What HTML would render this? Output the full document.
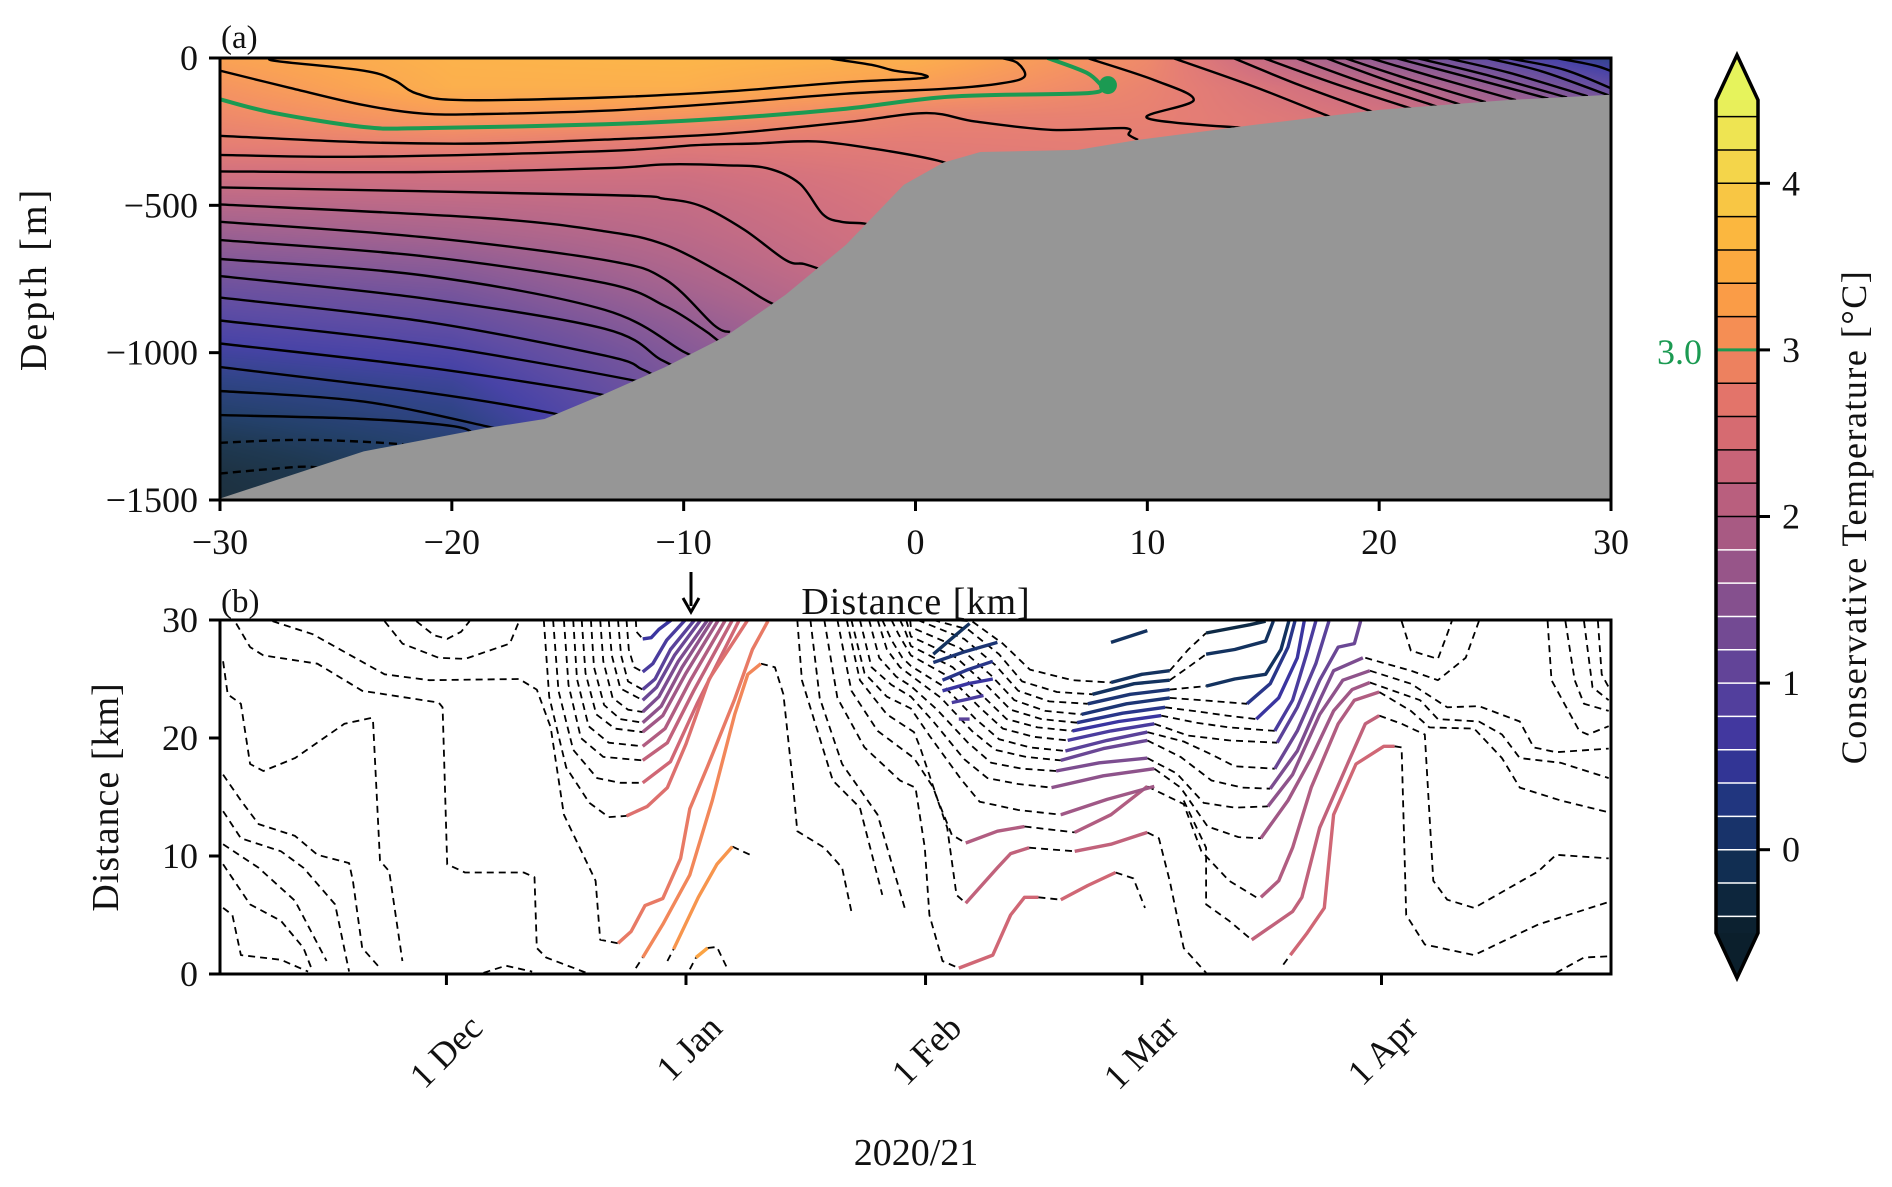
<!DOCTYPE html>
<html><head><meta charset="utf-8">
<style>
html,body{margin:0;padding:0;background:#fff;}
#wrap{position:relative;width:1892px;height:1187px;overflow:hidden;font-family:"Liberation Serif",serif;}
canvas{position:absolute;left:220px;top:58px;}
svg{position:absolute;left:0;top:0;}
text{font-family:"Liberation Serif",serif;fill:#111;}
</style></head>
<body>
<div id="wrap">
<canvas id="field" width="1391" height="442"></canvas>
<svg id="fig" width="1892" height="1187" viewBox="0 0 1892 1187" xmlns="http://www.w3.org/2000/svg">
  <defs>
    <clipPath id="clipA"><rect x="220" y="58" width="1391" height="442"/></clipPath>
    <clipPath id="clipWater"><path id="waterPath" d=""/></clipPath>
    <clipPath id="clipB"><rect x="220" y="620" width="1391" height="354"/></clipPath>
  </defs>
  <g id="panelA"></g>
  <g id="panelB"></g>
  <g id="cbar"></g>
  <text x="221" y="48" font-size="33">(a)</text>
  <text x="221" y="612" font-size="33">(b)</text>
  <text x="916" y="614" font-size="38" text-anchor="middle" letter-spacing="1">Distance [km]</text>
  <text transform="translate(46,279) rotate(-90)" font-size="38" text-anchor="middle" letter-spacing="3">Depth [m]</text>
  <text transform="translate(118,797) rotate(-90)" font-size="38" text-anchor="middle" letter-spacing="1">Distance [km]</text>
  <text x="916" y="1165" font-size="38" text-anchor="middle">2020/21</text>
  <g>
    <line x1="691" y1="572" x2="691" y2="606" stroke="#000" stroke-width="3"/>
    <path d="M683,598 L691,612 L699,598" fill="none" stroke="#000" stroke-width="3"/>
  </g>
  <text transform="translate(1866,517) rotate(-90)" font-size="36" text-anchor="middle" letter-spacing="1.5">Conservative Temperature [°C]</text>
  <text x="1702" y="364" font-size="36" text-anchor="end" fill="#1b9a52" style="fill:#1b9a52">3.0</text>
</svg>
</div>
<script>
// ---------- colormap ----------
const cmapVals = [-0.5,-0.2,0.0,0.3,0.6,0.9,1.2,1.5,1.8,2.1,2.4,2.7,3.0,3.3,3.6,3.9,4.2,4.5];
const cmapCols = ["#0b1f2c","#0e2a45","#13325f","#21367f","#3a35a0","#523f9d","#6a4795","#85508e","#a05886","#b95f7e","#d06775","#e3746a","#f2875a","#fa9c47","#fcb03c","#f8c644","#f2dd4d","#e6f35c"];
function hex2rgb(h){return [parseInt(h.substr(1,2),16),parseInt(h.substr(3,2),16),parseInt(h.substr(5,2),16)];}
const cmapRGB = cmapCols.map(hex2rgb);
function cmap(v){
  if(v<=cmapVals[0]) return cmapRGB[0];
  for(let i=1;i<cmapVals.length;i++){
    if(v<=cmapVals[i]){const t=(v-cmapVals[i-1])/(cmapVals[i]-cmapVals[i-1]);const a=cmapRGB[i-1],b=cmapRGB[i];return [a[0]+(b[0]-a[0])*t,a[1]+(b[1]-a[1])*t,a[2]+(b[2]-a[2])*t];}
  }
  return cmapRGB[cmapRGB.length-1];
}
function cstr(v){const c=cmap(v);return "rgb("+c.map(x=>Math.round(x)).join(",")+")";}

// ---------- panel A data ----------
const gridX = [-30,-20,-10,0,10,20,30];
const gridDepth = [0,100,200,300,400,500,600,700,800,900,1000,1100,1200,1300,1400,1500];
const gridT = [
 [3.3,3.55,3.6,3.5,2.9,1.5,0.3],
 [3.08,3.5,3.5,3.22,2.8,2.2,1.0],
 [2.9,3.18,3.07,2.78,2.75,2.45,1.6],
 [2.7,2.76,2.6,2.65,2.7,2.5,2.0],
 [2.35,2.36,2.33,2.55,2.6,2.5,2.2],
 [2.0,2.08,2.18,2.5,2.5,2.5,2.3],
 [1.66,1.82,2.07,2.45,2.5,2.5,2.3],
 [1.34,1.5,1.93,2.4,2.5,2.5,2.3],
 [1.04,1.22,1.76,2.3,2.5,2.5,2.3],
 [0.78,0.96,1.56,2.2,2.5,2.5,2.3],
 [0.52,0.7,1.4,2.1,2.5,2.5,2.3],
 [0.27,0.46,1.3,2.0,2.5,2.5,2.3],
 [0.03,0.28,1.2,2.0,2.5,2.5,2.3],
 [-0.19,0.1,1.1,2.0,2.5,2.5,2.3],
 [-0.38,0.0,1.0,2.0,2.5,2.5,2.3],
 [-0.45,-0.1,1.0,2.0,2.5,2.5,2.3]
];
const bathyDist = [-30,-23.8,-18.6,-16,-13.4,-10.8,-8.2,-5.6,-3,-0.5,1.2,2.8,7,9.6,14.6,20,25.5,30];
const bathyDepth = [1495,1335,1257,1225,1140,1049,945,803,634,430,355,319,312,278,227,176,143,125];
const xTicksA = [-30,-20,-10,0,10,20,30];
const yTicksA = [0,-500,-1000,-1500];
const contourLevelsA = [3.4,3.2,2.8,2.6,2.4,2.2,2.0,1.8,1.6,1.4,1.2,1.0,0.8,0.6,0.4,0.2,0.0,-0.2,-0.4];
const contourPtsA = [
 [-27.6,0,-27.6,10,-23.8,43,-22.5,75,-21.5,121,-19.6,143,-13.4,134,-8.2,114,-3,82,0.2,69,0.3,56,-0.9,43,-1.9,23,-3.5,4,-3.7,0],
 [-30,43,-27,101,-23.8,160,-21.2,189,-18.6,190,-13.4,179,-8.2,153,-3,121,1.4,104,3.7,86,4.7,63,4.4,17,3.7,0],
 [-30,264,-23.8,286,-18.6,290,-13.4,277,-8.2,257,-3,218,0.46,187,2.6,216,5.9,244,9,238,9.2,261,9.6,278],
 [-30,329,-23.8,335,-13.4,316,-9.5,296,-6.9,290,-4.3,283,-1.7,309,0.95,348,2,380],
 [-30,385,-21.2,387,-13.4,374,-10.8,361,-8.2,364,-6.4,374,-5,426,-4,530,-3.2,556,-2.2,562,-1.5,580],
 [-30,439,-13.4,465,-10.8,478,-9.2,504,-7.4,582,-5.6,686,-4.8,699,-4,720],
 [-30,497,-18.6,543,-13.4,588,-10.8,634,-8.2,738,-6.6,816,-6,840],
 [-30,556,-21.2,608,-13.4,686,-10.8,751,-8.7,906,-8,930],
 [-30,618,-21.2,673,-13.4,764,-10.8,842,-9.2,919,-8.5,960],
 [-30,682,-21.2,738,-13.4,855,-10,997,-9,1030],
 [-30,740,-21.2,816,-13.4,919,-11,1023,-10,1060],
 [-30,813,-21.2,894,-13.4,1010,-11.8,1056,-11,1090],
 [-30,891,-21.2,971,-12.1,1095,-11.5,1120],
 [-30,969,-21.2,1049,-13.7,1140,-13,1170],
 [-30,1049,-21.2,1134,-15.7,1205,-15,1230],
 [-30,1130,-23.8,1166,-18.1,1257,-17,1280],
 [-30,1212,-23.8,1225,-19.9,1250,-19,1280],
 [-30,1306,-26.4,1296,-22.5,1309,-21,1330],
 [-30,1410,-27.7,1394,-26.2,1387,-25,1400]
];
const rightContoursA = [
 [7.4,0,10.3,75,12,143,10,204,14.2,238],
 [11.1,0,14.6,97,17.9,200],
 [13.7,0,16.5,90,19.8,185],
 [15.0,0,18,85,21.4,172],
 [16.4,0,19.2,80,22.5,165],
 [17.7,0,20.3,75,23.5,158],
 [18.5,0,21.2,70,24.6,150],
 [19.6,0,22.4,65,25.9,143],
 [20.7,0,23.6,60,27.3,138],
 [21.6,0,24.5,55,28.1,134],
 [22.9,0,25.6,50,29,130],
 [24.6,0,27,45,29.9,127],
 [25.5,0,28,40,30.5,120],
 [27.6,0,29.5,30,31,80]
];
const greenMain = [-30,140,-27.7,186,-23.8,234,-21.2,238,-13.4,225,-8.2,205,-3,172,1.5,131,7.2,120,8.1,103,8.3,92];
const greenTop = [5.7,0,7.4,51,8.1,98,8.3,92];
const greenDot = [8.3,92];

// ---------- panel B data ----------
const dateTickDays = [30,61,92,120,151];
const dateTickLabels = ["1 Dec","1 Jan","1 Feb","1 Mar","1 Apr"];
const yTicksB = [0,10,20,30];
const dashedB = [
 [2.8,29.7,4.6,27.7,6.3,27,13.3,26.3,19.1,24,29,23,29.5,22.6,30.1,9.3,32.4,8.6,40,8.6,41.4,8.2,41.7,2.2,42.9,1.4,48.1,0.1],
 [7.5,29.9,12.7,28.8,22,25.4,27.8,24.9,39.4,25,41.7,24.1,43.5,20.9,45.2,13.5,49.3,7.9,49.9,2.9,52.2,2.6],
 [22,29.9,24.3,28,29,26.8,32.4,26.7,38.2,28,39.4,29.9],
 [26.1,29.9,28.4,28.7,30.1,28.4,31.9,29,33,29.9],
 [1.1,26.5,1.7,23.7,3.4,22.9,4.6,17.8,6.3,17.2,10.4,18.3,16.8,21.2,20.3,21.7,20.5,21.5,21.4,9.6,22.6,8.7,24.3,1.1],
 [1.1,16.9,3.4,14.7,5.7,12.7,10.4,11.7,13.3,10.1,17.4,9.4,17.9,7.9,19.1,2.2,21.4,0.5],
 [1.1,13.8,3.4,11.5,8.6,10.4,11.5,9,15.6,5.9,17.4,0.2],
 [1.1,11,5.7,9,10.4,6.2,14.5,1.1],
 [1.1,9.3,4.6,5.9,8.6,4.5,11.5,2.2,12.7,0.2],
 [1.1,5.6,2.3,5,3.4,1.6,8.6,1.2,12.1,0.2],
 [34.8,0.1,37.7,0.7,41.1,0.2],
 [54.5,30,54.6,29,55.4,28.4],
 [53.3,30,53.6,27.5,54.3,26,55.4,25.6],
 [52.2,30,52.6,27,53.5,24.8,55.4,24.1],
 [51,30,51.4,27,52.5,24.2,55.4,23.2],
 [49.9,30,50.3,26.5,51.5,23.4,53.5,22.4,55.4,22.2],
 [48.7,30,49.1,26,50.4,22.8,52.5,21.6,55.4,21.3],
 [47.5,30,48,25.5,49.4,22,51.8,20.8,55.4,20.5],
 [46.4,30,46.9,25,48.4,21,51,19.6,55.4,19.3],
 [45.2,30,45.8,24.5,47.4,20,50.3,18.4,55.4,18.1],
 [43.8,30,44.5,24,46.4,19,49.5,16.6,52.5,16.2,55.4,16.2],
 [42.6,30,43.3,23.5,45.5,17.5,48.5,14.5,51,13.3,53.3,13.4],
 [70.7,26.3,72.5,26,73.6,23.7,74.8,16.4,75.4,12.1,78.9,10.7,81.2,9,82.4,5.3],
 [54.5,0.5,55.4,1.4],
 [67,10.8,69.3,10.1],[58.6,1.1,59.4,2.1],
 [63.8,2.2,65,2.3,66.4,0.4],[61.5,0.4,62.3,1.4],
 [75.4,30,76,24.9,80,16.4,83.5,14.1,86.4,6.7],
 [77.1,30,78.3,23.4,81.2,17.8,85.8,13.5,89.3,5.6],
 [78.9,30,80.6,23.4,84.1,19.2,88.7,16.4,90.7,15.8,91.9,10.7,92.5,5,94.2,1.1,96.3,0.5],
 [106.6,6.5,109.5,6.3],[116.6,8.6,118.9,8.1,120.4,5.6],
 [80.6,30,82.4,24,85.8,20.6,90.5,18.3,93,15.8,94.8,12.4,96,6.7,97.2,6.0],
 [105.4,10.7,111.3,10.4],[120.7,12,122.2,11.5,123.6,7.9,125.4,2.2,128.3,0.1],
 [81.8,30,83.5,24.9,87,22,90.5,20.5,91.3,19.2,93.6,14.7,95.4,11.8,97.2,11.1],
 [104.8,12.5,111.3,12],
 [120.7,15.9,125.4,14.4,127.7,10.4,131.3,7.9,134.8,6.5,135.4,6.5],
 [82.4,30,84.1,25.5,87,23.5,90.1,22.5,92.5,20.2,96.6,16.5,99,14.6,104,13.9,109.5,13.5],
 [83.5,30,85,26,87.6,24.5,90.1,23.5,93,21.4,97,18.2,100,16.6,104,16.1,108.3,15.8],
 [84.7,30,86,26.8,88.2,25.2,90.1,24.4,93.5,22.4,97.5,19.6,100.5,17.9,104.5,17.4,108.9,17.2],
 [85.8,30,87,27.5,88.7,26,90.1,25.3,94,23.4,98,20.6,101,19,105,18.4,109.5,18.1],
 [86.4,30,87.6,28.3,89,26.8,90.1,26.1,94.5,24.3,98.5,21.6,101.5,19.9,105.5,19.2,110.1,18.9],
 [87.6,30,88.5,28.8,90.1,27,95,25.2,99,22.6,102,20.8,106,20.1,110.4,19.8],
 [88.7,30,89.4,29,90.1,27.8,95.5,26,99.5,23.5,102.5,21.6,106.5,20.9,111,20.6],
 [89.5,30,90.1,28.6,96,26.8,100,24.4,103,22.4,107,21.6,111.6,21.3],
 [90,30,90.1,29.4,96.5,27.6,100.5,25.3,103.5,23.2,107.5,22.3,112.2,22],
 [91,30,97,28.4,101,26.2,104,24,108,23.1,113,22.9],
 [93,30,97.5,29.2,101.5,27.1,104.5,24.8,109,23.9,113.6,23.7],
 [95,30,98,29.9,102,28,105.5,25.8,111,24.9,116,24.7],
 [123.6,23.4,127.7,23.2,133.6,22.9],
 [123,22.6,127.7,22.2,131,21.9,134.8,21.6],
 [122.5,21.9,127,21.3,131.3,20.9,137.2,20.6],
 [121.6,21.2,126,20.2,131.3,19.8,137.5,19.6],
 [120.7,20.5,125.4,19.7,129,18.6,132,17.6,137.2,17.4],
 [120.7,19.8,125,18.4,129,16.4,133,15.8,136.6,15.7],
 [120.7,18.3,124.5,17,128,14.5,132,14.1,136.3,14.2],
 [121.6,17.4,125,15.8,128.5,12.5,132.5,11.6,135.4,11.5],
 [123.6,24.1,128.3,24.4],[123.6,24.9,126,26,128.3,27.1],[123.6,25.7,126,27.5,128.3,28.9],
 [138.3,0.8,139.2,1.6],
 [152.7,19.3,153.6,19.2,154.2,5,156.6,2.5,163,1.6,171.3,4.2,180.4,6.1],
 [125.4,14.7,128.3,10.7,128.3,5.9,131.3,4.5,134.2,2.9],
 [150.7,21.9,153.6,21.2,156.6,20.3,157.7,7.9,159.5,6.3,163,5.6,171.3,8.7,173.6,10.1,180.4,9.8],
 [150.7,23.9,154.8,22.3,157.2,20.9,163,20.8,166.6,18.3,168.9,15.8,174.2,14.7,180.4,13.7],
 [149.5,24.7,156,23.2,158.3,21.6,163.6,21.4,166.6,20.3,168.9,18.3,174.2,17.9,180.4,16.6],
 [149.5,25.7,154.8,24.6,159.5,22.6,163.6,22.7,168.9,21.4,170.7,19.2,173.6,18.8,180.4,19.1],
 [148.9,26.8,154.8,25.7,158.3,24.9,161.9,26.8,163.6,29.9],
 [153.6,29.9,154.8,27.4,158.3,26.7,159.5,28.8,160.1,29.9],
 [172.5,29.9,173,24.9,176.6,20.6,177.7,20.3,180.4,21],
 [174.8,29.9,176,24.9,177.2,22.9,180.4,22.3],
 [177.2,29.9,178.3,24.3,180.4,23.2],
 [179,29.9,179.5,25.4,180.4,24.3],
 [173.6,0.1,177.2,1.4,180.4,1.5]
];
const coloredLevelsB = [0.6,0.8,1.0,1.2,1.4,1.6,1.8,2.0,2.2,2.4,2.6,2.8,3.0,3.2,3.4,
 2.4,2.4,2.2,2.2,2.0,2.0,
 2.4,2.2,2.0,1.8,1.6,1.4,1.2,1.0,0.8,0.6,0.4,
 0.0,0.0,-0.2,0.0,
 0.0,0.0,0.2,0.2,0.4,0.6,0.8,1.0,1.2,1.4,1.6,1.8,
 0.0,0.2,0.4,0.6,0.8,1.0];
const coloredPtsB = [
 [55.4,28.4,56.5,28.5,57.5,29.2,59.1,30],
 [55.4,25.6,56.7,26.3,58.5,28.3,60.9,30],
 [55.4,24.1,57,25,59,27.5,62.1,30],
 [55.4,23.2,57.2,24.3,59.5,27,62.9,30],
 [55.4,22.2,57.5,23.5,60,26.5,63.8,30],
 [55.4,21.3,57.8,22.7,60.5,26,64.4,30],
 [55.4,20.5,58,21.9,61,25.5,65.2,30],
 [55.4,19.3,58.3,20.8,61.5,24.8,66.1,30],
 [55.4,18.1,58.6,19.6,62,24,67,30],
 [55.4,16.2,59,18,62.5,23,67.9,30],
 [53.3,13.4,56,14.2,58.6,15.8,61,19.5,64,25,69,30],
 [52.2,2.6,53.9,3.6,55.7,5.8,58,6.4,60.3,9.8,61.5,14,63.8,17.6,67.3,23.3,69.6,27.5,71.6,29.9],
 [55.4,1.4,58,4.2,61.5,8.4,64.4,14.7,67.3,22,69,25.4,70.7,26.3],
 [59.4,2.1,62.6,6.5,65,9.3,67,10.8],
 [62.3,1.4,63.8,2.2],
 [96.3,0.5,100.7,1.6,103,5,104.8,6.5,106.6,6.5],
 [109.5,6.3,113,7.5,116.6,8.6],
 [97.2,6,101.3,9,103,10.2,105.4,10.7],
 [111.3,10.4,116,11,120.7,12],
 [97.2,11.1,101.3,12.1,104.8,12.5],
 [111.3,12,116,13.5,120.7,15.9],
 [139.2,1.6,141.3,3.4,143.6,5.6,144.8,13.5,147.7,17.8,151.3,19.3,152.7,19.3],
 [134.2,2.9,139.5,5.3,140.7,6.5,143,12.4,146.6,17.8,148.9,21.2,150.7,21.9],
 [135.4,6.5,137.7,7.9,139.5,10.7,141.9,15.8,145.4,21.2,147.5,23.2,150.7,23.9],
 [135.4,11.5,138.9,14.7,141.9,18.3,144.8,22.3,147.2,24.1,149.5,24.7],
 [136.3,14.2,139.5,16.9,143,22,146,24.9,149.5,25.7],
 [136.6,15.7,140.1,18.9,143,23.2,144.8,25.7,148.6,26.8],
 [137.2,17.4,140.1,20.6,143,24.9,145.4,27.7,147.5,28,148.3,29.9],
 [137.5,19.6,140.1,22.6,142.5,26.3,144.2,29.9],
 [137.2,20.6,139.5,23.2,141.3,27.1,142.5,29.9],
 [134.8,21.6,137.7,23.4,140.1,26.8,141,29.9],
 [133.6,22.9,136.6,24.6,138.9,27.7,139.8,29.9],
 [128.3,24.4,132,25,136,25.4,138,27.5,139,29.9],
 [128.3,27.1,132,27.5,136,28.2,137,29.9],
 [128.3,28.9,134,29.6,136,29.9],
 [116,28.1,120.7,29.1],
 [116,24.7,120,25.4,123.6,25.7],
 [113.6,23.7,119,24.6,123.6,24.9],
 [113,22.9,118.5,23.7,123.6,24.1],
 [112.2,22,118,22.9,123.6,23.4],
 [111.6,21.3,117.5,22.1,123,22.6],
 [111,20.6,117,21.4,122.5,21.9],
 [110.4,19.8,116,20.6,121.6,21.2],
 [110.1,18.9,115.5,19.8,120.7,20.5],
 [109.5,18.1,115,19.1,120.7,19.8],
 [108.9,17.2,114.5,17.9,120.7,18.3],
 [108.3,15.8,115,16.8,121.6,17.4],
 [109.5,13.5,115.5,14.8,121.6,15.9],
 [93,27.1,95.5,28.5,97.7,29.7],
 [93,26.4,97,27.3,101.3,28.1],
 [94.2,24.9,97.5,25.8,100.7,26.5],
 [94.2,24,97.5,24.6,100.7,25],
 [95.4,23,97.5,23.3,99.5,23.6],
 [96.3,21.6,97.7,21.6]
];

// ---------- colorbar data ----------
const cbTicks = [0,1,2,3,4];
const cbEdges = [-0.5,-0.4,-0.2,0.0,0.2,0.4,0.6,0.8,1.0,1.2,1.4,1.6,1.8,2.0,2.2,2.4,2.6,2.8,3.0,3.2,3.4,3.6,3.8,4.0,4.2,4.4,4.5];
const cbHighlight = 3.0;

// ---------- geometry ----------
const A = {x0:220,x1:1611,y0:58,y1:500};
const B = {x0:220,x1:1611,y0:620,y1:974};
const xA = km => A.x0 + (km+30)/60*(A.x1-A.x0);
const yA = d => A.y0 + d/1500*(A.y1-A.y0);
const xB = day => B.x0 + (day-0.7)/180*(B.x1-B.x0);
const yB = km => B.y1 - km/30*(B.y1-B.y0);
const CB = {x0:1716,x1:1758,y0:100,y1:933,vmin:-0.5,vmax:4.5};
const yCB = v => CB.y1 - (v-CB.vmin)/(CB.vmax-CB.vmin)*(CB.y1-CB.y0);

const NS="http://www.w3.org/2000/svg";
function mk(tag,attrs,parent){const e=document.createElementNS(NS,tag);for(const k in attrs)e.setAttribute(k,attrs[k]);parent.appendChild(e);return e;}

function tAt(km,d){
  let ci=0;while(ci<gridX.length-2&&km>gridX[ci+1])ci++;
  let ri=0;while(ri<gridDepth.length-2&&d>gridDepth[ri+1])ri++;
  const tx=Math.max(0,Math.min(1,(km-gridX[ci])/(gridX[ci+1]-gridX[ci])));
  const ty=Math.max(0,Math.min(1,(d-gridDepth[ri])/(gridDepth[ri+1]-gridDepth[ri])));
  const a=gridT[ri][ci],b=gridT[ri][ci+1],c=gridT[ri+1][ci],e=gridT[ri+1][ci+1];
  return a*(1-tx)*(1-ty)+b*tx*(1-ty)+c*(1-tx)*ty+e*tx*ty;
}
(function(){
  const cv=document.getElementById('field');const ctx=cv.getContext('2d');
  const W=cv.width,H=cv.height;const img=ctx.createImageData(W,H);
  for(let px=0;px<W;px++){
    const km=-30+(px+0.5)/W*60;
    for(let py=0;py<H;py++){
      const d=(py+0.5)/H*1500;const c=cmap(tAt(km,d));const o=(py*W+px)*4;
      img.data[o]=c[0]*0.93+255*0.07;img.data[o+1]=c[1]*0.93+255*0.07;img.data[o+2]=c[2]*0.93+255*0.07;img.data[o+3]=255;
    }
  }
  ctx.putImageData(img,0,0);
})();

function smoothPath(pts,fx,fy){
  const P=[];for(let i=0;i<pts.length;i+=2)P.push([fx(pts[i]),fy(pts[i+1])]);
  let d="M"+P[0][0].toFixed(1)+","+P[0][1].toFixed(1);
  for(let i=0;i<P.length-1;i++){
    const p0=P[Math.max(0,i-1)],p1=P[i],p2=P[i+1],p3=P[Math.min(P.length-1,i+2)];
    const c1=[p1[0]+(p2[0]-p0[0])/6,p1[1]+(p2[1]-p0[1])/6],c2=[p2[0]-(p3[0]-p1[0])/6,p2[1]-(p3[1]-p1[1])/6];
    d+=" C"+c1[0].toFixed(1)+","+c1[1].toFixed(1)+" "+c2[0].toFixed(1)+","+c2[1].toFixed(1)+" "+p2[0].toFixed(1)+","+p2[1].toFixed(1);
  }
  return d;
}

// ---------- panel A ----------
(function(){
  const g=document.getElementById('panelA');
  let wd="M"+xA(-30)+","+yA(0)+" L"+xA(30)+","+yA(0);
  for(let i=bathyDist.length-1;i>=0;i--) wd+=" L"+xA(bathyDist[i]).toFixed(1)+","+yA(bathyDepth[i]).toFixed(1);
  wd+=" Z";document.getElementById('waterPath').setAttribute('d',wd);
  const cg=mk('g',{'clip-path':'url(#clipWater)'},g);
  
  
  contourPtsA.forEach((pts,i)=>{
    const p=mk('path',{d:smoothPath(pts,xA,yA),fill:'none',stroke:'#000','stroke-width':2.4},cg);
    if(contourLevelsA[i]<0)p.setAttribute('stroke-dasharray','8,5');
    
    
  });
  rightContoursA.forEach((pts,i)=>{
    const p=mk('path',{d:smoothPath(pts,xA,yA),fill:'none',stroke:'#000','stroke-width':2.4},cg);
    
    
  });
  let bd="M"+xA(-30)+","+yA(1500);
  for(let i=0;i<bathyDist.length;i++) bd+=" L"+xA(bathyDist[i]).toFixed(1)+","+yA(bathyDepth[i]).toFixed(1);
  bd+=" L"+xA(30)+","+yA(1500)+" Z";
  const bp=mk('path',{d:bd,fill:'#969696','clip-path':'url(#clipA)'},g);
  
  
  const gg=mk('g',{'clip-path':'url(#clipA)'},g);
  
  
  mk('path',{d:smoothPath(greenMain,xA,yA),fill:'none',stroke:'#1b9a52','stroke-width':4},gg);
  mk('path',{d:smoothPath(greenTop,xA,yA),fill:'none',stroke:'#1b9a52','stroke-width':4},gg);
  const dot=mk('circle',{cx:xA(greenDot[0]),cy:yA(greenDot[1]),r:9,fill:'#1b9a52'},g);
  
  
  const fr=mk('rect',{x:A.x0,y:A.y0,width:A.x1-A.x0,height:A.y1-A.y0,fill:'none',stroke:'#000','stroke-width':3},g);
  
  
  xTicksA.forEach(v=>{
    const x=xA(v);mk('line',{x1:x,y1:A.y1,x2:x,y2:A.y1+11,stroke:'#000','stroke-width':3},g);
    const t=mk('text',{x:x,y:A.y1+54,'font-size':36,'text-anchor':'middle'},g);
    t.textContent=(v<0?'\u2212'+(-v):String(v));
    
    
  });
  yTicksA.forEach(v=>{
    const y=yA(-v);mk('line',{x1:A.x0-11,y1:y,x2:A.x0,y2:y,stroke:'#000','stroke-width':3},g);
    const t=mk('text',{x:A.x0-22,y:y+12,'font-size':36,'text-anchor':'end'},g);
    t.textContent=(v<0?'\u2212'+(-v):String(v));
    
    
  });
})();

// ---------- panel B ----------
(function(){
  const g=document.getElementById('panelB');
  const cg=mk('g',{'clip-path':'url(#clipB)'},g);
  
  
  dashedB.forEach((pts,i)=>{
    let d="";for(let k=0;k<pts.length;k+=2)d+=(k?" L":"M")+xB(pts[k]).toFixed(1)+","+yB(pts[k+1]).toFixed(1);
    const p=mk('path',{d:d,fill:'none',stroke:'#000','stroke-width':1.8,'stroke-dasharray':'7,5','stroke-linejoin':'round'},cg);
    
    
  });
  coloredPtsB.forEach((pts,i)=>{
    let d="";for(let k=0;k<pts.length;k+=2)d+=(k?" L":"M")+xB(pts[k]).toFixed(1)+","+yB(pts[k+1]).toFixed(1);
    const p=mk('path',{d:d,fill:'none',stroke:cstr(coloredLevelsB[i]),'stroke-width':3.4,'stroke-linejoin':'round','stroke-linecap':'butt'},cg);
    
    
  });
  const fr=mk('rect',{x:B.x0,y:B.y0,width:B.x1-B.x0,height:B.y1-B.y0,fill:'none',stroke:'#000','stroke-width':3},g);
  
  
  dateTickDays.forEach((v,i)=>{
    const x=xB(v);mk('line',{x1:x,y1:B.y1,x2:x,y2:B.y1+11,stroke:'#000','stroke-width':3},g);
    const t=mk('text',{transform:'translate('+(x+38)+',1030) rotate(-45)','font-size':36,'text-anchor':'end'},g);
    t.textContent=dateTickLabels[i];
    
    
  });
  yTicksB.forEach(v=>{
    const y=yB(v);mk('line',{x1:B.x0-11,y1:y,x2:B.x0,y2:y,stroke:'#000','stroke-width':3},g);
    const t=mk('text',{x:B.x0-22,y:y+12,'font-size':36,'text-anchor':'end'},g);
    t.textContent=String(v);
    
    
  });
})();

// ---------- colorbar ----------
(function(){
  const g=document.getElementById('cbar');
  const xm=(CB.x0+CB.x1)/2;
  for(let i=0;i<cbEdges.length-1;i++){
    const lo=cbEdges[i],hi=cbEdges[i+1];
    const r=mk('rect',{x:CB.x0,y:yCB(hi),width:CB.x1-CB.x0,height:yCB(lo)-yCB(hi)+0.5,fill:cstr((lo+hi)/2)},g);
    
    
  }
  const tt=mk('path',{d:`M${CB.x0},${CB.y0} L${xm},55 L${CB.x1},${CB.y0} Z`,fill:cstr(4.5)},g);
  
  
  const tb=mk('path',{d:`M${CB.x0},${CB.y1} L${xm},978 L${CB.x1},${CB.y1} Z`,fill:cstr(-0.5)},g);
  
  
  for(let i=1;i<cbEdges.length-1;i++){
    const v=cbEdges[i];const y=yCB(v);
    const hl=Math.abs(v-cbHighlight)<1e-6;
    const col = hl ? '#1b9a52' : (v>=2.0 ? '#000' : '#fff');
    mk('line',{x1:CB.x0,y1:y,x2:CB.x1,y2:y,stroke:col,'stroke-width':hl?3:1.5},g);
  }
  const ol=mk('path',{d:`M${CB.x0},${CB.y0} L${xm},55 L${CB.x1},${CB.y0} L${CB.x1},${CB.y1} L${xm},978 L${CB.x0},${CB.y1} Z`,fill:'none',stroke:'#000','stroke-width':3.5},g);
  
  
  cbTicks.forEach(v=>{
    const y=yCB(v);mk('line',{x1:CB.x1,y1:y,x2:CB.x1+12,y2:y,stroke:'#000','stroke-width':3},g);
    const t=mk('text',{x:CB.x1+24,y:y+12,'font-size':36},g);
    t.textContent=String(v);
    
    
  });
})();
</script>
</body></html>
